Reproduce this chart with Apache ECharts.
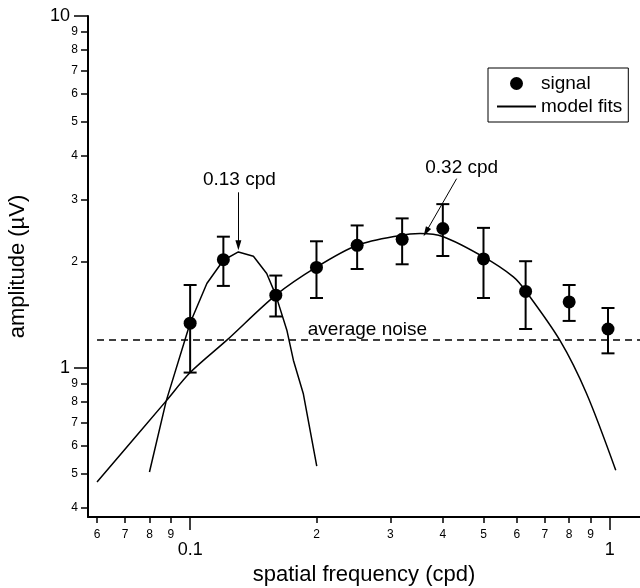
<!DOCTYPE html>
<html>
<head>
<meta charset="utf-8">
<script src="https://cdn.jsdelivr.net/npm/echarts@6/dist/echarts.min.js"></script>
<style>
  html, body { margin: 0; padding: 0; background: #fff; }
  #chart { width: 640px; height: 588px; }
</style>
</head>
<body>
<div id="chart"></div>
<script>
// measured signal (cpd, µV) with error bar limits
const signalX = [0.1, 0.12, 0.16, 0.2, 0.25, 0.32, 0.4, 0.5, 0.63, 0.8, 0.99]
const signalY = [1.34, 2.03, 1.61, 1.93, 2.23, 2.32, 2.49, 2.04, 1.65, 1.54, 1.29]
const errLow = [0.97, 1.71, 1.40, 1.58, 1.91, 1.97, 2.08, 1.58, 1.29, 1.36, 1.10]
const errHigh = [1.72, 2.36, 1.83, 2.29, 2.54, 2.66, 2.92, 2.50, 2.01, 1.72, 1.48]

// narrow fit (peak 0.13 cpd)
const fitLowX = [0.080, 0.0877, 0.100, 0.1096, 0.120, 0.1303, 0.1415, 0.1522, 0.160, 0.170, 0.1762, 0.186, 0.2003]
const fitLowY = [0.506, 0.806, 1.342, 1.737, 2.023, 2.136, 2.077, 1.854, 1.61, 1.280, 1.052, 0.846, 0.526]

// broad fit (peak 0.32 cpd)
const fitHighX = [0.060, 0.0877, 0.100, 0.1223, 0.160, 0.2003, 0.250, 0.316, 0.353, 0.401, 0.499, 0.589, 0.631, 0.760, 0.880, 1.033]
const fitHighY = [0.474, 0.806, 0.970, 1.199, 1.61, 1.936, 2.232, 2.38, 2.41, 2.36, 2.07, 1.814, 1.651, 1.199, 0.846, 0.512]

// average noise level
const noiseX = [0.06, 1.18]
const noiseLevel = 1.2

// tick values
const xMajorTicks = [0.1, 1]
const xMinorTicks = [0.06, 0.07, 0.08, 0.09, 0.2, 0.3, 0.4, 0.5, 0.6, 0.7, 0.8, 0.9]
const yMajorTicks = [1, 10]
const yMinorTicks = [0.4, 0.5, 0.6, 0.7, 0.8, 0.9, 2, 3, 4, 5, 6, 7, 8, 9]

const font = "'Liberation Sans', Arial, sans-serif"
const xRange = { min: 0.0571, max: 1.18 }
const yRange = { min: 0.377, max: 10 }

// label is the leading digit (6 for 0.06, 2 for 0.2 ...)
function digit(v) {
  let d = v
  while (d < 1) d *= 10
  return String(Math.round(d))
}

const chart = echarts.init(document.getElementById('chart'))

const axisBase = {
  type: 'log',
  logBase: 10,
  splitLine: { show: false },
  axisLine: { lineStyle: { color: '#000', width: 2 } }
}

const option = {
  animation: false,
  textStyle: { fontFamily: font },
  grid: { left: 88, right: 0, top: 16, bottom: 71, containLabel: false, outerBoundsMode: 'none' },
  legend: {
    data: [
      { name: 'signal' },
      { name: 'model fits', itemStyle: { color: 'rgba(0,0,0,0)', borderColor: 'rgba(0,0,0,0)', borderWidth: 0 } }
    ],
    orient: 'vertical',
    left: 488,
    top: 68,
    padding: [6, 6, 6, 8],
    itemWidth: 39,
    itemHeight: 13,
    itemGap: 4,
    borderColor: '#000',
    borderWidth: 1,
    textStyle: { fontSize: 19, color: '#000', fontFamily: font }
  },
  xAxis: [
    Object.assign({}, axisBase, xRange, {
      position: 'bottom',
      name: 'spatial frequency (cpd)',
      nameLocation: 'middle',
      nameGap: 46,
      nameTextStyle: { fontSize: 22, color: '#000', fontFamily: font },
      axisTick: { customValues: xMajorTicks, length: 13, lineStyle: { color: '#000', width: 1.5 } },
      axisLabel: {
        customValues: xMajorTicks,
        margin: 24,
        fontSize: 18,
        color: '#000',
        formatter: (v) => (v < 0.5 ? '0.1' : '1')
      }
    }),
    Object.assign({}, axisBase, xRange, {
      position: 'bottom',
      axisLine: { show: false },
      axisTick: { customValues: xMinorTicks, length: 6, lineStyle: { color: '#000', width: 1.5 } },
      axisLabel: {
        customValues: xMinorTicks,
        margin: 12,
        fontSize: 12,
        color: '#000',
        formatter: digit
      }
    })
  ],
  yAxis: [
    Object.assign({}, axisBase, yRange, {
      position: 'left',
      name: 'amplitude (µV)',
      nameLocation: 'middle',
      nameGap: 59,
      nameTextStyle: { fontSize: 22, color: '#000', fontFamily: font },
      axisTick: { customValues: yMajorTicks, length: 14, lineStyle: { color: '#000', width: 1.5 } },
      axisLabel: {
        customValues: yMajorTicks,
        margin: 18,
        fontSize: 18,
        color: '#000',
        formatter: (v) => String(Math.round(v))
      }
    }),
    Object.assign({}, axisBase, yRange, {
      position: 'left',
      axisLine: { show: false },
      axisTick: { customValues: yMinorTicks, length: 7, lineStyle: { color: '#000', width: 1.5 } },
      axisLabel: {
        customValues: yMinorTicks,
        margin: 10,
        fontSize: 12,
        color: '#000',
        formatter: digit
      }
    })
  ],
  series: [
    {
      name: 'noise',
      type: 'line',
      symbol: 'none',
      silent: true,
      data: noiseX.map((x) => [x, noiseLevel]),
      lineStyle: { color: '#000', width: 1.5, type: [7, 5] },
      markPoint: {
        symbol: 'circle',
        symbolSize: 0,
        silent: true,
        label: { show: true, position: 'inside', color: '#000', fontSize: 19, fontFamily: font, formatter: '{b}' },
        data: [
          { name: 'average noise', coord: [0.2645, 1.284] },
          { name: '0.13 cpd', coord: [0.131, 3.43] },
          { name: '0.32 cpd', coord: [0.4436, 3.7] }
        ]
      },
      markLine: {
        silent: true,
        symbol: ['none', 'triangle'],
        symbolSize: [6, 10],
        label: { show: false },
        lineStyle: { color: '#000', width: 1, type: 'solid' },
        data: [
          [{ coord: [0.1303, 3.155] }, { coord: [0.1303, 2.232] }],
          [{ coord: [0.4315, 3.45] }, { coord: [0.3648, 2.434] }]
        ]
      }
    },
    {
      name: 'model fits',
      type: 'line',
      symbol: 'none',
      data: fitLowX.map((x, i) => [x, fitLowY[i]]),
      lineStyle: { color: '#000', width: 1.5 },
      itemStyle: { color: '#000' }
    },
    {
      name: 'model fits',
      type: 'line',
      symbol: 'none',
      smooth: 0.3,
      data: fitHighX.map((x, i) => [x, fitHighY[i]]),
      lineStyle: { color: '#000', width: 1.5 },
      itemStyle: { color: '#000' }
    },
    {
      name: 'error',
      type: 'custom',
      z: 3,
      data: signalX.map((x, i) => [x, errLow[i], errHigh[i]]),
      encode: { x: 0, y: [1, 2] },
      renderItem: function (params, api) {
        const x = api.value(0)
        const lo = api.coord([x, api.value(1)])
        const hi = api.coord([x, api.value(2)])
        const w = 6.5
        const style = { stroke: '#000', lineWidth: 2 }
        return {
          type: 'group',
          children: [
            { type: 'line', shape: { x1: lo[0], y1: lo[1], x2: hi[0], y2: hi[1] }, style: style },
            { type: 'line', shape: { x1: lo[0] - w, y1: lo[1], x2: lo[0] + w, y2: lo[1] }, style: style },
            { type: 'line', shape: { x1: hi[0] - w, y1: hi[1], x2: hi[0] + w, y2: hi[1] }, style: style }
          ]
        }
      }
    },
    {
      name: 'signal',
      type: 'scatter',
      z: 4,
      symbol: 'circle',
      symbolSize: 13,
      data: signalX.map((x, i) => [x, signalY[i]]),
      itemStyle: { color: '#000', opacity: 1 }
    }
  ]
}

chart.setOption(option)
</script>
</body>
</html>
